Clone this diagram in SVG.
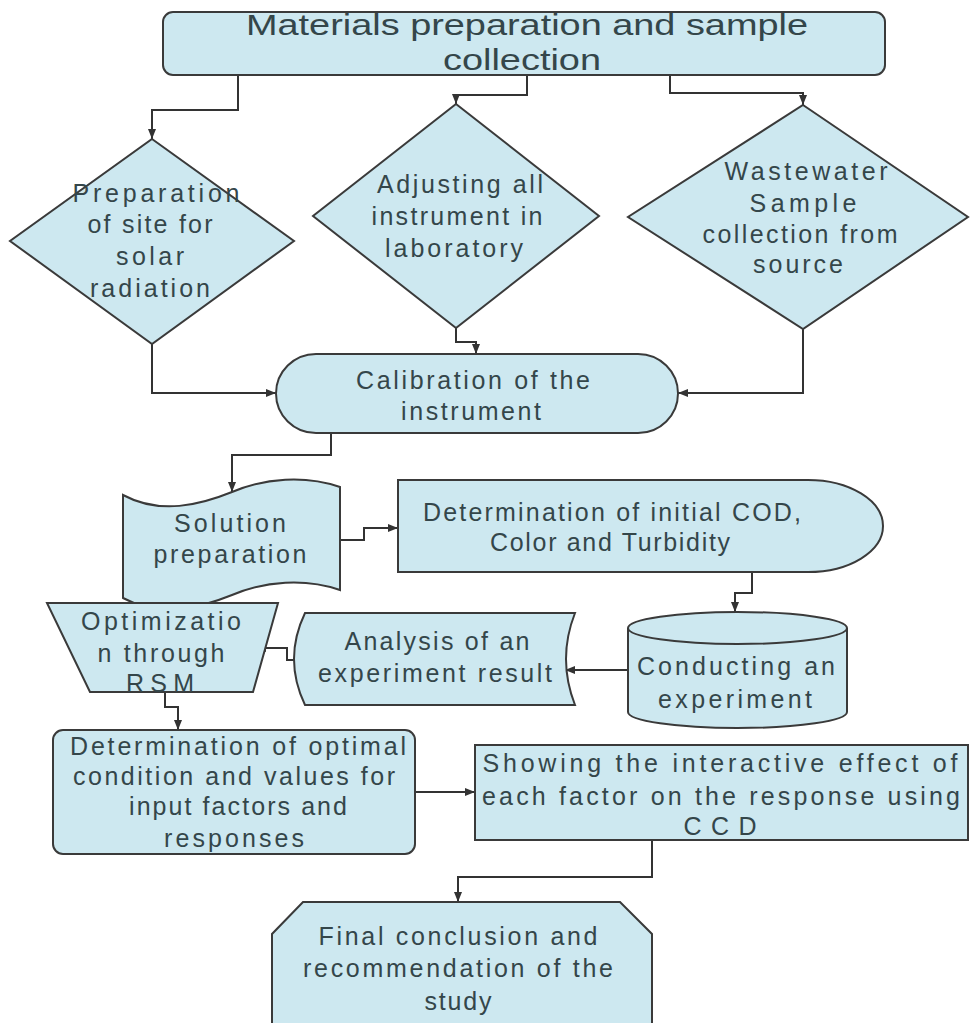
<svg xmlns="http://www.w3.org/2000/svg" width="970" height="1023" viewBox="0 0 970 1023">
<defs>
<style>
.n{fill:#cde8f0;stroke:#3a3a3a;stroke-width:2}
.t{font-family:"Liberation Sans",Arial,sans-serif;font-size:25px;fill:#34464a;text-anchor:middle}
.big{font-size:30px}
.c{fill:none;stroke:#333;stroke-width:2}
</style>
<marker id="ah" viewBox="0 0 10 10" refX="10" refY="5" markerWidth="10" markerHeight="10" markerUnits="userSpaceOnUse" orient="auto">
<path d="M0,1 L10,5 L0,9 Z" fill="#333"/>
</marker>
</defs>
<rect width="970" height="1023" fill="#fff"/>

<g id="connectors">
<path class="c" marker-end="url(#ah)" d="M238,75 V110 H152 V139"/>
<path class="c" marker-end="url(#ah)" d="M527,75 V95 H456 V104"/>
<path class="c" marker-end="url(#ah)" d="M670,75 V93 H803 V105"/>
<path class="c" marker-end="url(#ah)" d="M152,344 V393 H276"/>
<path class="c" marker-end="url(#ah)" d="M456,328 V342 H476 V354"/>
<path class="c" marker-end="url(#ah)" d="M803,329 V393 H678"/>
<path class="c" marker-end="url(#ah)" d="M331,433 V455 H232 V492"/>
<path class="c" marker-end="url(#ah)" d="M340,540 H364 V528 H398"/>
<path class="c" marker-end="url(#ah)" d="M752,573 V593 H735 V612"/>
<path class="c" marker-end="url(#ah)" d="M628,670 H565"/>
<path class="c" marker-end="url(#ah)" d="M294,660 H287 V648 H256"/>
<path class="c" marker-end="url(#ah)" d="M165,692 V707 H178 V730"/>
<path class="c" marker-end="url(#ah)" d="M415,792 H475"/>
<path class="c" marker-end="url(#ah)" d="M652,840 V877 H458 V902"/>
</g>

<g id="n-materials">
<rect class="n" x="163" y="12" width="722" height="63" rx="10"/>
<text class="t big" x="527" y="35" textLength="562" lengthAdjust="spacingAndGlyphs">Materials preparation and sample</text>
<text class="t big" x="522" y="70" textLength="158" lengthAdjust="spacingAndGlyphs">collection</text>
</g>

<g id="n-site">
<polygon class="n" points="152,139 294,241 152,344 10,241"/>
<text class="t" x="156" y="202" textLength="167">Preparation</text>
<text class="t" x="150" y="233" textLength="125">of site for</text>
<text class="t" x="150" y="265" textLength="68">solar</text>
<text class="t" x="150" y="297" textLength="120">radiation</text>
</g>

<g id="n-adjust">
<polygon class="n" points="456,104 599,216 456,328 313,216"/>
<text class="t" x="460" y="193" textLength="166">Adjusting all</text>
<text class="t" x="457" y="225" textLength="171">instrument in</text>
<text class="t" x="454" y="257" textLength="138">laboratory</text>
</g>

<g id="n-wastewater">
<polygon class="n" points="803,105 968,217 803,329 628,217"/>
<text class="t" x="806" y="180" textLength="163">Wastewater</text>
<text class="t" x="803" y="212" textLength="107">Sample</text>
<text class="t" x="800" y="243" textLength="195">collection from</text>
<text class="t" x="798" y="273" textLength="90">source</text>
</g>

<g id="n-calibration">
<rect class="n" x="276" y="354" width="402" height="79" rx="40" ry="40"/>
<text class="t" x="473" y="389" textLength="234">Calibration of the</text>
<text class="t" x="471" y="420" textLength="140">instrument</text>
</g>

<g id="n-solution">
<path class="n" d="M123,495 C160,515 200,505 232,492 C265,478 305,475 340,487 V590 C305,578 265,581 232,595 C200,608 160,618 123,598 Z"/>
<text class="t" x="230" y="532" textLength="112">Solution</text>
<text class="t" x="230" y="563" textLength="153">preparation</text>
</g>

<g id="n-initial">
<path class="n" d="M398,480 H808 A75,46 0 0 1 808,572 H398 Z"/>
<text class="t" x="612" y="521" textLength="378">Determination of initial COD,</text>
<text class="t" x="610" y="551" textLength="240">Color and Turbidity</text>
</g>

<g id="n-conducting">
<path class="n" d="M628,628 A109.5,16 0 0 1 847,628 V712 A109.5,16 0 0 1 628,712 Z"/>
<path class="n" fill="none" d="M628,628 A109.5,16 0 0 0 847,628"/>
<text class="t" x="736" y="675" textLength="198">Conducting an</text>
<text class="t" x="735" y="708" textLength="154">experiment</text>
</g>

<g id="n-analysis">
<path class="n" d="M305,613 H575 Q557,659 575,705 H305 Q283,659 305,613 Z"/>
<text class="t" x="437" y="650" textLength="185">Analysis of an</text>
<text class="t" x="435" y="682" textLength="234">experiment result</text>
</g>

<g id="n-optimization">
<polygon class="n" points="47,603 278,603 253,692 90,692"/>
<text class="t" x="161" y="630" textLength="160">Optimizatio</text>
<text class="t" x="161" y="662" textLength="127">n through</text>
<text class="t" x="160" y="692" textLength="68">RSM</text>
</g>

<g id="n-optimal">
<rect class="n" x="53" y="730" width="362" height="124" rx="10"/>
<text class="t" x="238" y="755" textLength="336">Determination of optimal</text>
<text class="t" x="234" y="785" textLength="322">condition and values for</text>
<text class="t" x="238" y="815" textLength="218">input factors and</text>
<text class="t" x="234" y="847" textLength="140">responses</text>
</g>

<g id="n-showing">
<rect class="n" x="475" y="745" width="493" height="95"/>
<text class="t" x="720" y="772" textLength="475">Showing the interactive effect of</text>
<text class="t" x="721" y="805" textLength="478">each factor on the response using</text>
<text class="t" x="720" y="835" textLength="73">CCD</text>
</g>

<g id="n-final">
<path class="n" d="M303,902 H620 L652,934 V1030 H272 V934 Z"/>
<text class="t" x="458" y="945" textLength="279">Final conclusion and</text>
<text class="t" x="458" y="977" textLength="310">recommendation of the</text>
<text class="t" x="458" y="1010" textLength="67">study</text>
</g>
</svg>
